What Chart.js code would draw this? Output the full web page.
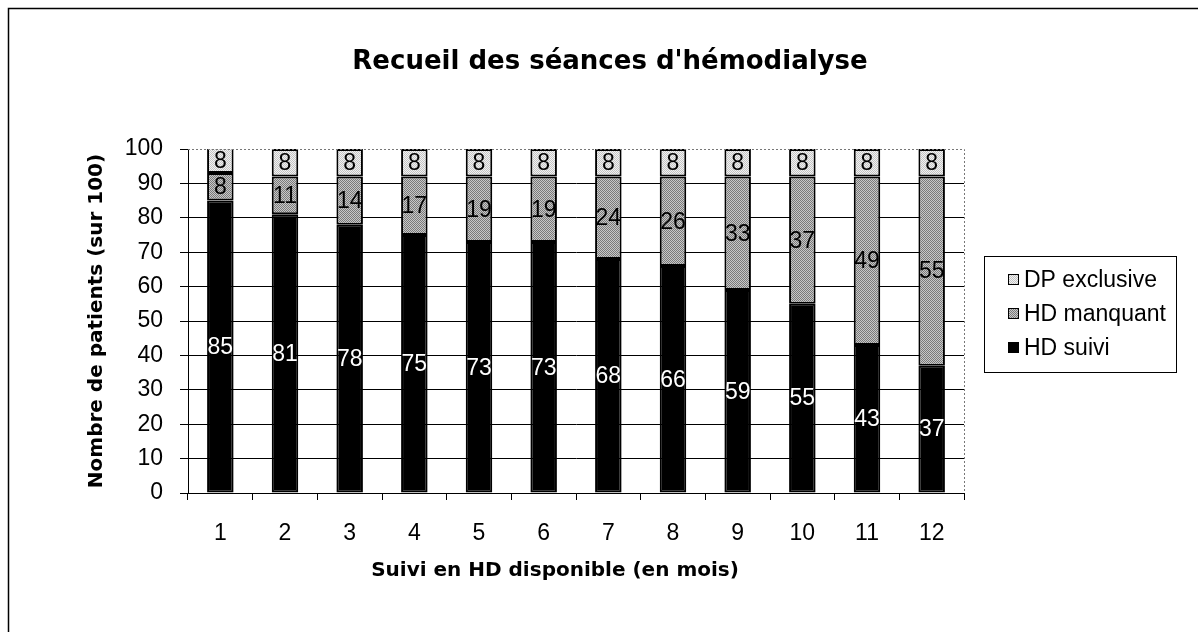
<!DOCTYPE html>
<html><head><meta charset="utf-8">
<script src="https://cdn.jsdelivr.net/npm/chart.js@4/dist/chart.umd.min.js"></script>
<style>html,body{margin:0;padding:0;background:#fff;}#wrap{width:1198px;height:632px;}</style>
</head><body><div id="wrap"><canvas id="c" width="1198" height="632"></canvas></div>
<script>
const categories = ['1','2','3','4','5','6','7','8','9','10','11','12'];
const hdSuivi = [85,81,78,75,73,73,68,66,59,55,43,37];
const hdManquant = [8,11,14,17,19,19,24,26,33,37,49,55];
const dpExclusive = [8,8,8,8,8,8,8,8,8,8,8,8];
const seriesNames = ['HD suivi','HD manquant','DP exclusive'];
const legendOrder = ['DP exclusive','HD manquant','HD suivi'];
const yMin = 0, yMax = 100, yStep = 10;
const titleText = "Recueil des séances d'hémodialyse";
const xTitleText = 'Suivi en HD disponible (en mois)';
const yTitleText = 'Nombre de patients (sur 100)';

const NARROW = "'Liberation Sans', Arial, sans-serif";
const BOLD = "'DejaVu Sans', 'Liberation Sans', sans-serif";

function makePattern(c1, c2) {
  const p = document.createElement('canvas');
  p.width = 2; p.height = 2;
  const g = p.getContext('2d');
  g.fillStyle = c1; g.fillRect(0,0,2,2);
  g.fillStyle = c2; g.fillRect(1,0,1,1); g.fillRect(0,1,1,1);
  return document.getElementById('c').getContext('2d').createPattern(p, 'repeat');
}
const fillSuivi = '#000000';
const fillManquant = makePattern('#7a7a7a', '#c8c8c8');
const fillDP = makePattern('#c4c4c4', '#f2f2f2');
const fills = {'HD suivi': fillSuivi, 'HD manquant': fillManquant, 'DP exclusive': fillDP};

const decorPlugin = {
  id: 'decor',
  beforeDraw(chart) {
    const ctx = chart.ctx;
    ctx.save();
    ctx.fillStyle = '#fff';
    ctx.fillRect(0, 0, chart.width, chart.height);
    ctx.strokeStyle = '#000'; ctx.lineWidth = 1.5;
    ctx.beginPath();
    ctx.moveTo(8.5, chart.height); ctx.lineTo(8.5, 8.5); ctx.lineTo(chart.width, 8.5);
    ctx.stroke();
    ctx.restore();
  },
  afterDraw(chart) {
    const ctx = chart.ctx, a = chart.chartArea;
    ctx.save();
    ctx.strokeStyle = '#777'; ctx.lineWidth = 1; ctx.setLineDash([2,2]);
    ctx.beginPath();
    ctx.moveTo(a.left, a.top + 0.5); ctx.lineTo(a.right + 0.5, a.top + 0.5); ctx.lineTo(a.right + 0.5, a.bottom);
    ctx.stroke();
    ctx.setLineDash([]);
    ctx.fillStyle = '#000';
    ctx.textAlign = 'center'; ctx.textBaseline = 'middle';
    ctx.font = 'bold 26px ' + BOLD;
    ctx.fillText(titleText, 610, 62);
    ctx.font = 'bold 20px ' + BOLD;
    ctx.fillText(xTitleText, a.left + (a.right - a.left) / 2 - 21, 571);
    ctx.save();
    ctx.translate(97, a.top + (a.bottom - a.top) / 2);
    ctx.rotate(-Math.PI / 2);
    ctx.fillText(yTitleText, 0, 0);
    ctx.restore();
    const lx = a.right + 20, ly = 256, lw = 192, lh = 116;
    ctx.strokeStyle = '#000'; ctx.lineWidth = 1;
    ctx.strokeRect(lx + 0.5, ly + 0.5, lw, lh);
    ctx.font = '23px ' + NARROW;
    ctx.textAlign = 'left'; ctx.textBaseline = 'middle';
    legendOrder.forEach((name, i) => {
      const cy = ly + 24 + i * 34;
      ctx.fillStyle = fills[name];
      ctx.fillRect(lx + 24, cy - 6, 11, 11);
      ctx.strokeStyle = '#000';
      ctx.strokeRect(lx + 24.5, cy - 5.5, 10, 10);
      ctx.fillStyle = '#000';
      ctx.fillText(name, lx + 40, cy + 1);
    });
    ctx.restore();
  },
  afterDatasetsDraw(chart) {
    const ctx = chart.ctx, a = chart.chartArea;
    ctx.save();
    ctx.font = '23px ' + NARROW;
    ctx.textAlign = 'center'; ctx.textBaseline = 'middle';
    chart.data.datasets.forEach((ds, i) => {
      const meta = chart.getDatasetMeta(i);
      meta.data.forEach((bar, j) => {
        const p = bar.getProps(['x','y','base'], true);
        const top = Math.max(Math.min(p.y, p.base), a.top);
        const bot = Math.min(Math.max(p.y, p.base), a.bottom);
        ctx.fillStyle = i === 0 ? '#fff' : '#000';
        ctx.fillText(String(ds.data[j]), p.x, (top + bot) / 2 + 1);
      });
    });
    ctx.restore();
  }
};

const dataSeries = [hdSuivi, hdManquant, dpExclusive];
new Chart(document.getElementById('c'), {
  type: 'bar',
  data: {
    labels: categories,
    datasets: seriesNames.map((n, i) => ({
      label: n,
      data: dataSeries[i],
      backgroundColor: fills[n],
      borderColor: '#000',
      borderWidth: 2,
      borderSkipped: false,
      categoryPercentage: 1,
      barPercentage: 0.41
    }))
  },
  options: {
    responsive: false,
    animation: false,
    devicePixelRatio: 1,
    layout: { padding: { left: 10, right: 234, top: 149, bottom: 0 } },
    plugins: { legend: { display: false }, title: { display: false }, tooltip: { enabled: false } },
    scales: {
      x: {
        stacked: true,
        offset: true,
        afterFit(s) { s.height = 139; },
        grid: { display: true, drawOnChartArea: false, drawTicks: true, tickLength: 7, color: '#000', offset: true },
        border: { display: true, color: '#000', width: 1 },
        ticks: { color: '#000', font: { family: NARROW, size: 23 }, padding: 20, maxRotation: 0, autoSkip: false }
      },
      y: {
        stacked: true,
        min: yMin, max: yMax,
        afterFit(s) { s.width = 178; },
        grid: {
          color: (c) => (c.tick && c.tick.value === yMax) ? 'rgba(0,0,0,0)' : '#000',
          tickColor: '#000', tickLength: 8, drawTicks: true
        },
        border: { display: true, color: '#000', width: 1 },
        ticks: { stepSize: yStep, color: '#000', font: { family: NARROW, size: 23 }, padding: 17, autoSkip: false }
      }
    }
  },
  plugins: [decorPlugin]
});
</script></body></html>
